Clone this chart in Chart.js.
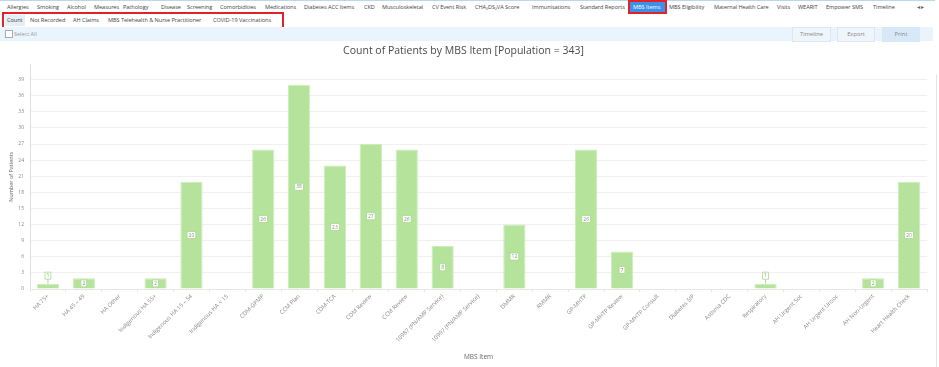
<!DOCTYPE html>
<html lang="en">
<head>
  <meta charset="UTF-8">
  <title>Count of Patients by MBS Item</title>
  <script src="https://cdn.jsdelivr.net/npm/chart.js"></script>
  <style>
    body {
      margin: 0;
      width: 939px;
      height: 367px;
      overflow: hidden;
      background: #fff;
      font-family: "Open Sans", Arial, sans-serif;
      position: relative;
    }
    .abs { position: absolute; white-space: nowrap; }
    .tab { font-size: 5.6px; color: #444; top: 3px; letter-spacing: -0.05px; }
    .sub { font-size: 5.6px; color: #444; top: 16px; letter-spacing: -0.05px; }
    .topline { left: 0; top: 0; width: 935px; height: 1px; background: #bcd6ee; }
    .mbs-box { left: 628px; top: 0; width: 35px; height: 10px; border: 2px solid #e0222b; background: #3e8fe8; }
    .redbox { left: 2px; top: 12px; width: 278px; height: 13px; border: 2px solid #e0222b; }
    .count-bg { left: 5px; top: 15px; width: 20px; height: 11px; background: #e6eef6; }
    .band { left: 0; top: 27px; width: 933px; height: 14px; background: #eaf4fc; }
    .chk { left: 5px; top: 30px; width: 6px; height: 6px; border: 1px solid #aaa; background: #fff; }
    .btn { top: 27px; height: 13px; border: 1px solid #dbe6f0; background: #eef5fb; font-size: 5.8px; color: #888; text-align: center; line-height: 13px; }
    #wrap { position: absolute; left: 0; top: 40px; width: 939px; height: 327px; }
    .rightline { left: 936px; top: 75px; width: 1px; height: 292px; background: #e4e4e4; }
  </style>
</head>
<body>
  <div class="abs topline"></div>
  <div class="abs mbs-box"></div>
  <div class="abs redbox"></div>
  <div class="abs count-bg"></div>
  <div class="abs band"></div>
  <div class="abs chk"></div>
  <div class="abs sub" style="left:14px; top:30px; color:#999;">Select All</div>
  <div class="abs btn" style="left:792px; width:37px;">Timeline</div>
  <div class="abs btn" style="left:837px; width:36px;">Export</div>
  <div class="abs btn" style="left:882px; width:36px; background:#d7e9f9;">Print</div>
  <div class="abs rightline"></div>
  <div id="tabs"></div>
  <div id="wrap"><canvas id="chart"></canvas></div>

  <script>
    // header tabs: [text, left]
    const tabNames = ['Allergies', 'Smoking', 'Alcohol', 'Measures', 'Pathology', 'Disease', 'Screening',
      'Comorbidities', 'Medications', 'Diabetes ACC Items', 'CKD', 'Musculoskeletal', 'CV Event Risk',
      'CHA\u2082DS\u2082VA Score', 'Immunisations', 'Standard Reports', 'MBS Items', 'MBS Eligibility',
      'Maternal Health Care', 'Visits', 'WEARIT', 'Empower SMS', 'Timeline'];
    const tabLefts = [7, 37, 67, 94, 123, 161, 187, 220, 265, 304, 364, 382, 432,
      475, 532, 580, 633, 669, 714, 777, 798, 826, 873];
    const subNames = ['Count', 'Not Recorded', 'AH Claims', 'MBS Telehealth & Nurse Practitioner', 'COVID-19 Vaccinations'];
    const subLefts = [7, 30, 73, 108, 213];

    // chart data
    const categories = ['HA 75+', 'HA 45 \u2013 49', 'HA Other', 'Indigenous HA 55+', 'Indigenous HA 15 \u2013 54',
      'Indigenous HA < 15', 'CDM-GPMP', 'CCM Plan', 'CDM-TCA', 'CDM Review', 'CCM Review',
      '10987 (PN/AMP Service)', '10997 (PN/AMP Service)', 'DMMR', 'RMMR', 'GP-MHTP', 'GP-MHTP Review',
      'GP-MHTP Consult', 'Diabetes SIP', 'Asthma CDC', 'Respiratory', 'AH Urgent Soc', 'AH Urgent Unsoc',
      'AH Non-Urgent', 'Heart Health Check'];
    const patientCounts = [1, 2, 0, 2, 20, 0, 26, 38, 23, 27, 26, 8, 0, 12, 0, 26, 7, 0, 0, 0, 1, 0, 0, 2, 20];

    const tabsDiv = document.getElementById('tabs');
    tabNames.forEach((t, i) => {
      const s = document.createElement('div');
      s.className = 'abs tab';
      s.style.left = tabLefts[i] + 'px';
      if (t === 'MBS Items') s.style.color = '#fff';
      s.textContent = t;
      tabsDiv.appendChild(s);
    });
    subNames.forEach((t, i) => {
      const s = document.createElement('div');
      s.className = 'abs sub';
      s.style.left = subLefts[i] + 'px';
      s.textContent = t;
      tabsDiv.appendChild(s);
    });
    const arrows = document.createElement('div');
    arrows.className = 'abs tab';
    arrows.style.left = '917px';
    arrows.style.color = '#666';
    arrows.textContent = '\u25C2 \u25B8';
    tabsDiv.appendChild(arrows);

    // small boxed value labels, moved above the bar when it is too short
    const valueLabels = {
      id: 'valueLabels',
      afterDatasetsDraw(chart) {
        const ctx = chart.ctx;
        const meta = chart.getDatasetMeta(0);
        ctx.save();
        ctx.font = '5px "Open Sans", sans-serif';
        ctx.textAlign = 'center';
        ctx.textBaseline = 'middle';
        meta.data.forEach((bar, i) => {
          const v = patientCounts[i];
          if (!v) return;
          const txt = String(v);
          const w = ctx.measureText(txt).width + 3;
          const h = 7;
          const barH = bar.base - bar.y;
          let cy = bar.y + barH / 2;
          if (barH < h + 2) {
            cy = bar.y - 8;
            ctx.strokeStyle = '#a9d98f';
            ctx.lineWidth = 1;
            ctx.beginPath();
            ctx.moveTo(bar.x, cy + h / 2);
            ctx.lineTo(bar.x, bar.y);
            ctx.stroke();
          }
          ctx.fillStyle = '#fff';
          ctx.fillRect(bar.x - w / 2, cy - h / 2, w, h);
          ctx.strokeStyle = '#a9d98f';
          ctx.lineWidth = 0.8;
          ctx.strokeRect(bar.x - w / 2, cy - h / 2, w, h);
          ctx.fillStyle = '#7f9a7a';
          ctx.fillText(txt, bar.x, cy + 0.3);
        });
        ctx.restore();
      }
    };

    new Chart(document.getElementById('chart'), {
      type: 'bar',
      data: {
        labels: categories,
        datasets: [{
          label: 'Number of Patients',
          data: patientCounts,
          backgroundColor: '#b6e39c',
          borderColor: '#cdeeb8',
          borderWidth: 1,
          barPercentage: 0.62,
          categoryPercentage: 1
        }]
      },
      options: {
        responsive: true,
        maintainAspectRatio: false,
        animation: false,
        layout: { padding: { left: 0, right: 12, top: 0, bottom: 6 } },
        plugins: {
          legend: { display: false },
          tooltip: { enabled: false },
          title: {
            display: true,
            text: 'Count of Patients by MBS Item [Population = 343]',
            color: '#4a4a4a',
            font: { family: '"Open Sans", sans-serif', size: 10.5, weight: 'normal' },
            padding: { top: 5, bottom: 7 }
          }
        },
        scales: {
          x: {
            afterFit: (s) => { s.height = 72; },
            grid: { drawOnChartArea: false, color: '#e6e6e6', tickLength: 3 },
            border: { color: '#e6e6e6' },
            ticks: {
              color: '#888',
              font: { family: '"Open Sans", sans-serif', size: 5.8 },
              maxRotation: 45,
              minRotation: 45,
              autoSkip: false,
              padding: 1
            },
            title: {
              display: true,
              text: 'MBS Item',
              color: '#666',
              font: { family: '"Open Sans", sans-serif', size: 6.5 },
              padding: 0
            }
          },
          y: {
            min: 0,
            max: 41.8,
            afterFit: (s) => { s.width = 30; },
            grid: { color: '#f0f0f0', drawTicks: false },
            border: { color: '#e0e0e0' },
            ticks: {
              stepSize: 3,
              includeBounds: false,
              color: '#888',
              font: { family: '"Open Sans", sans-serif', size: 5 },
              padding: 6
            },
            title: {
              display: true,
              text: 'Number of Patients',
              color: '#666',
              font: { family: '"Open Sans", sans-serif', size: 5.5 },
              padding: { top: 8, bottom: 0 }
            }
          }
        }
      },
      plugins: [valueLabels]
    });
  </script>
</body>
</html>
